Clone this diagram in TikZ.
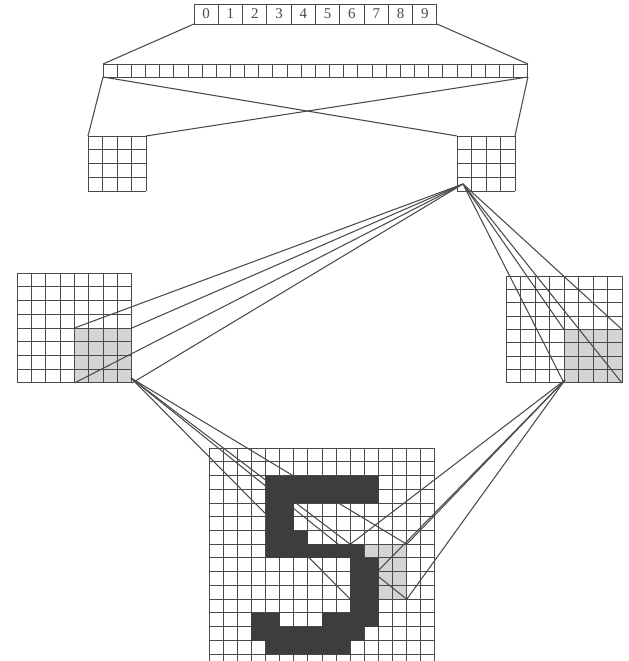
\documentclass[tikz,border=0pt]{standalone}
\usepackage{fontspec}
\setmainfont{Liberation Serif}
\usetikzlibrary{calc,positioning}

\definecolor{ink}{HTML}{4A4A4A}
\definecolor{litecell}{HTML}{D4D4D4}
\definecolor{blot}{HTML}{3D3D3D}

% cell lines of a layer node: node, columns, rows
\newcommand{\cellgrid}[3]{%
  \foreach \i in {0,...,#2}
    \draw[gridline] ($(#1.north west)!\i/#2!(#1.north east)$) -- ($(#1.south west)!\i/#2!(#1.south east)$);
  \foreach \j in {0,...,#3}
    \draw[gridline] ($(#1.north west)!\j/#3!(#1.south west)$) -- ($(#1.north east)!\j/#3!(#1.south east)$);
}
\def\cw{14.125}
\def\ch{13.75}

\begin{document}
\begin{tikzpicture}[x=0.02cm, y=-0.02cm,
    layer/.style={draw=none, rectangle, inner sep=0pt, outer sep=0pt, anchor=north west},
    gridline/.style={draw=ink, line width=0.55pt, line cap=rect},
    wire/.style={draw=ink, line width=0.6pt},
    digit/.style={font=\fontsize{8.5}{10}\selectfont, text=ink, inner sep=0pt}
]
    \useasboundingbox (0,0) rectangle (628,661);
    \clip (0,0) rectangle (628,661);

    % layers
    \node[layer, minimum width=4.86cm, minimum height=0.40cm] (out) at (194,4) {};
    \node[layer, minimum width=8.5cm, minimum height=0.26cm] (hid) at (103,64) {};
    \node[layer, minimum width=1.16cm, minimum height=1.10cm] (hidL) at (88,136) {};
    \node[layer, minimum width=1.16cm, minimum height=1.10cm] (hidR) at (457,136) {};
    \node[layer, minimum width=2.30cm, minimum height=2.20cm] (mapL) at (17,273) {};
    \node[layer, minimum width=2.32cm, minimum height=2.14cm] (mapR) at (506,276) {};
    \node[layer, minimum width=4.52cm, minimum height=4.40cm] (inp) at (209,448) {};

    % receptive field in the input
    \coordinate (f1) at ($(inp.north west)+(10*\cw,7*\ch)$);
    \coordinate (f2) at ($(inp.north west)+(14*\cw,7*\ch)$);
    \coordinate (f3) at ($(inp.north west)+(10*\cw,11*\ch)$);
    \coordinate (f4) at ($(inp.north west)+(14*\cw,11*\ch)$);

    % fan sources
    \coordinate (s1) at ($(hidR.south west)+(6,-7)$);
    \coordinate (s2) at ($(mapL.south east)+(-1,-5)$);
    \coordinate (s3) at ($(mapR.south)+(1,-3)$);

    \fill[litecell] (mapL.center) rectangle (mapL.south east);
    \fill[litecell] (mapR.center) rectangle (mapR.south east);
    \fill[litecell] (f1) rectangle (f4);

    \cellgrid{out}{10}{1}
    \cellgrid{hid}{30}{1}
    \cellgrid{hidL}{4}{4}
    \cellgrid{hidR}{4}{4}
    \cellgrid{mapL}{8}{8}
    \cellgrid{mapR}{8}{8}
    \cellgrid{inp}{16}{16}

    \foreach \d in {0,...,9}
        \node[digit] (d\d) at ($(out.west)+({(\d+0.5)*24.3},0)$) {\d};

    % connections
    \draw[wire] (out.south west) -- (hid.north west);
    \draw[wire] (out.south east) -- (hid.north east);
    \draw[wire] (hid.south west) -- (hidL.north west);
    \draw[wire] (hid.south west) -- (hidR.north west);
    \draw[wire] (hid.south east) -- (hidR.north east);
    \draw[wire] (hid.south east) -- (hidL.north east);

    \foreach \c in {center, east, south, south east} {
        \draw[wire] (s1) -- (mapL.\c);
        \draw[wire] (s1) -- (mapR.\c);
    }
    \foreach \c in {f1, f2, f3, f4} {
        \draw[wire] (s2) -- (\c);
        \draw[wire] (s3) -- (\c);
    }

    % the digit
    \foreach \r/\a/\b in {2/4/11, 3/4/11, 4/4/5, 5/4/5, 6/4/6, 7/4/10,
                          8/10/11, 9/10/11, 10/10/11, 11/10/11,
                          12/3/4, 12/8/11, 13/3/10, 14/4/9}
        \fill[blot] ($(inp.north west)+(\a*\cw,\r*\ch)$) rectangle ($(inp.north west)+({(\b+1)*\cw},{(\r+1)*\ch})$);

\end{tikzpicture}
\end{document}
